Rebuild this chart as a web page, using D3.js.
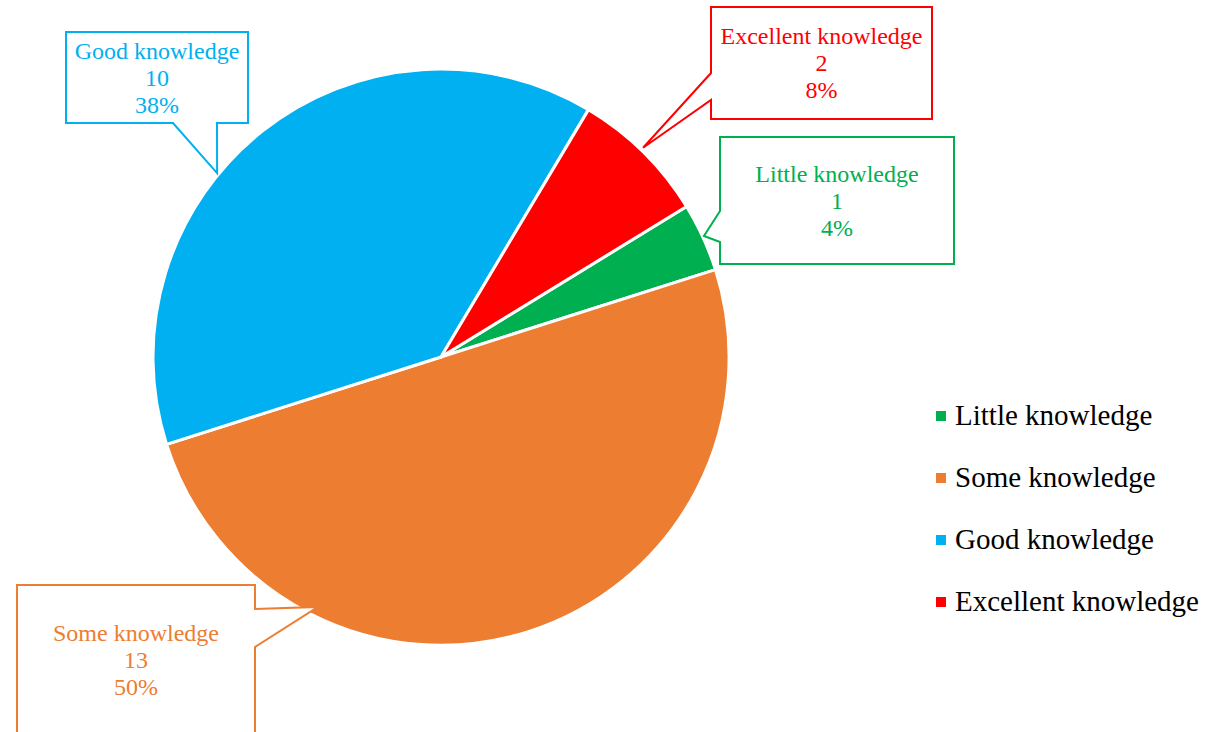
<!DOCTYPE html>
<html>
<head>
<meta charset="utf-8">
<script src="https://cdn.jsdelivr.net/npm/d3@7"></script>
<style>
    body { margin: 0; background: #fff; }
    svg { display: block; font-family: "Liberation Serif", "Times New Roman", serif; }
</style>
</head>
<body>
<svg id="chart" width="1221" height="732"></svg>
<script>
// data
const categories = ["Little knowledge", "Some knowledge", "Good knowledge", "Excellent knowledge"];
const counts = [1, 13, 10, 2];
const colors = ["#00B050", "#ED7D31", "#00B0F0", "#FF0000"];

// callout layout: box, pointer base on one side, pointer tip (angle in degrees, radius factor)
const callouts = [
    { box: [720, 137, 234, 127], side: "left", base: [211, 242], tipAngle: 65.3, tipR: 1.005 },
    { box: [17, 585, 238, 150], side: "right", base: [609, 647], tipAngle: 206.2, tipR: 0.967 },
    { box: [66, 32, 182, 91], side: "bottom", base: [173, 217], tipAngle: 309.4, tipR: 1.006 },
    { box: [711, 7, 221, 112], side: "left", base: [73, 100], tipAngle: 44, tipR: 1.01 }
];

const width = 1221;
const height = 732;
const cx = 441;
const cy = 357;
const radius = 288;
const startAngle = 58.5 * Math.PI / 180;

const svg = d3.select("#chart");
const total = d3.sum(counts);
const pct = d3.format(".0%");

const data = categories.map((c, i) => ({ name: c, value: counts[i], color: colors[i], callout: callouts[i] }));

const pie = d3.pie()
    .sort(null)
    .value(d => d.value)
    .startAngle(startAngle)
    .endAngle(startAngle + 2 * Math.PI);

const arc = d3.arc()
    .innerRadius(0)
    .outerRadius(radius);

// рисуем сектора
const g = svg.append("g").attr("transform", `translate(${cx}, ${cy})`);
g.selectAll("path.slice")
    .data(pie(data))
    .enter()
    .append("path")
    .attr("class", "slice")
    .attr("d", arc)
    .style("fill", d => d.data.color)
    .style("stroke", "#fff")
    .style("stroke-width", 3)
    .style("stroke-linejoin", "round");

// выноски с подписями
const calloutPath = (c) => {
    const [x, y, w, h] = c.box;
    const a = c.tipAngle * Math.PI / 180;
    const tx = cx + Math.sin(a) * radius * c.tipR;
    const ty = cy - Math.cos(a) * radius * c.tipR;
    const p = d3.path();
    p.moveTo(x, y);
    p.lineTo(x + w, y);
    if (c.side === "right") {
        p.lineTo(x + w, c.base[0]);
        p.lineTo(tx, ty);
        p.lineTo(x + w, c.base[1]);
    }
    p.lineTo(x + w, y + h);
    if (c.side === "bottom") {
        p.lineTo(c.base[1], y + h);
        p.lineTo(tx, ty);
        p.lineTo(c.base[0], y + h);
    }
    p.lineTo(x, y + h);
    if (c.side === "left") {
        p.lineTo(x, c.base[1]);
        p.lineTo(tx, ty);
        p.lineTo(x, c.base[0]);
    }
    p.closePath();
    return p.toString();
};

const labels = svg.selectAll("g.callout")
    .data(data)
    .enter()
    .append("g")
    .attr("class", "callout");

labels.append("path")
    .attr("d", d => calloutPath(d.callout))
    .style("fill", "#fff")
    .style("stroke", d => d.color)
    .style("stroke-width", 2);

labels.each(function (d) {
    const [x, y, w, h] = d.callout.box;
    const lines = [d.name, d.value, pct(d.value / total)];
    const lineH = 27;
    const midY = y + h / 2;
    d3.select(this)
        .selectAll("text")
        .data(lines)
        .enter()
        .append("text")
        .attr("x", x + w / 2)
        .attr("y", (t, i) => midY + (i - 1) * lineH + 8)
        .attr("text-anchor", "middle")
        .style("font-size", "24px")
        .style("fill", d.color)
        .text(t => t);
});

// легенда
const legend = svg.selectAll("g.legend")
    .data(data)
    .enter()
    .append("g")
    .attr("class", "legend")
    .attr("transform", (d, i) => `translate(936, ${416 + i * 62})`);

legend.append("rect")
    .attr("x", 0)
    .attr("y", -5)
    .attr("width", 10)
    .attr("height", 10)
    .style("fill", d => d.color);

legend.append("text")
    .attr("x", 19)
    .attr("y", 9)
    .style("font-size", "29px")
    .style("fill", "#000")
    .text(d => d.name);
</script>
</body>
</html>
